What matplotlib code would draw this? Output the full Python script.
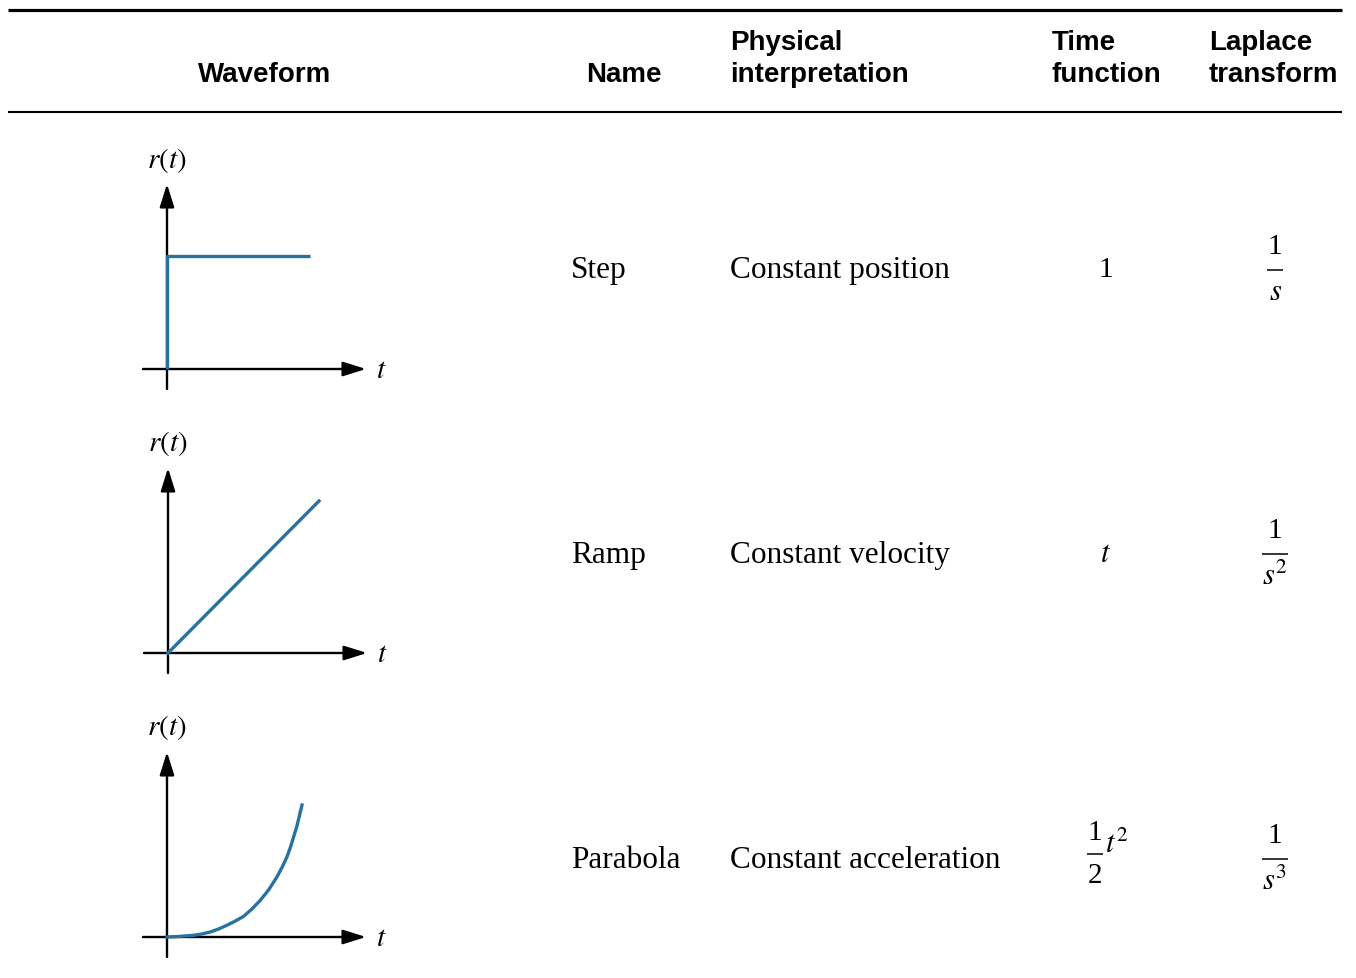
import matplotlib
matplotlib.use("Agg")
import matplotlib.pyplot as plt

plt.rcParams['mathtext.fontset'] = 'stix'

# ---- data ----
headers_waveform = "Waveform"
headers_name = "Name"
headers_phys = ["Physical", "interpretation"]
headers_time = ["Time", "function"]
headers_lap = ["Laplace", "transform"]

names = ["Step", "Ramp", "Parabola"]
interpretations = ["Constant position", "Constant velocity", "Constant acceleration"]
# time function: (numerator, denominator, trailing term); None numerator = plain term
time_num = [None, None, "1"]
time_den = [None, None, "2"]
time_term = ["1", r"$t$", r"$t^2$"]
# Laplace transform: 1 / s^n
lap_num = ["1", "1", "1"]
lap_den = [r"$s$", r"$s^2$", r"$s^3$"]

step_t = [0, 0, 1]
step_r = [0, 1, 1]
ramp_t = [0, 1]
ramp_r = [0, 1]
parab_t = [0, 0.074, 0.198, 0.259, 0.321, 0.383, 0.444, 0.506, 0.568, 0.630, 0.691,
           0.753, 0.815, 0.852, 0.889, 0.914, 0.938, 0.963, 1.0]
parab_r = [0, 0.003, 0.013, 0.023, 0.038, 0.061, 0.089, 0.121, 0.157, 0.213, 0.278,
           0.357, 0.456, 0.527, 0.608, 0.679, 0.759, 0.843, 1.0]

W, H = 1356, 979
fig = plt.figure(figsize=(W / 100, H / 100), dpi=100)
main = fig.add_axes([0, 0, 1, 1])
main.set_xlim(0, W)
main.set_ylim(H, 0)
main.axis('off')

head_font = dict(family=['Liberation Sans', 'DejaVu Sans'], weight='bold', fontsize=20)
body_font = dict(family=['Liberation Serif', 'DejaVu Serif'], fontsize=22.5)
num_font = dict(family=['Liberation Serif', 'DejaVu Serif'], fontsize=21)

# rules
main.plot([8, 1342], [11, 11], color='black', lw=2.3, solid_capstyle='butt')
main.plot([8, 1342], [113, 113], color='black', lw=1.5, solid_capstyle='butt')

# headers
main.text(265, 82, headers_waveform, ha='center', va='baseline', **head_font)
main.text(586, 82, headers_name, ha='left', va='baseline', **head_font)
for x, lines in [(730, headers_phys), (1052, headers_time), (1209, headers_lap)]:
    main.text(x, 50, lines[0], ha='left', va='baseline', **head_font)
    main.text(x, 82, lines[1], ha='left', va='baseline', **head_font)


def fraction(cx, bar_y, num, den, bar_w, den_dx=0, gap=23.5):
    main.text(cx, bar_y - gap, num, ha='center', va='center', **num_font)
    main.plot([cx - bar_w / 2, cx + bar_w / 2], [bar_y, bar_y], color='black', lw=1.1,
              solid_capstyle='butt')
    if den.startswith('$'):
        main.text(cx + den_dx, bar_y + 30, den, ha='center', va='baseline', fontsize=22)
    else:
        main.text(cx + den_dx, bar_y + gap, den, ha='center', va='center', **num_font)


# body rows
row_base = [278, 563, 868]
lap_bar = [270.5, 555, 860]
for i in range(3):
    main.text(571, row_base[i], names[i], ha='left', va='baseline', **body_font)
    main.text(730, row_base[i], interpretations[i], ha='left', va='baseline', **body_font)
    # time function
    if time_num[i] is None:
        main.text(1106, row_base[i] - 1, time_term[i], ha='center', va='baseline',
                  **(num_font if not time_term[i].startswith('$') else dict(fontsize=22)))
    else:
        fraction(1095, lap_bar[i] - 5, time_num[i], time_den[i], 16, gap=21.5)
        main.text(1105, lap_bar[i] - 7, time_term[i], ha='left', va='baseline', fontsize=22)
    # Laplace
    bw = 16 if i == 0 else 26
    fraction(1275, lap_bar[i], lap_num[i], lap_den[i], bw, den_dx=1 if i == 0 else 0)

blue = '#26739f'


def panel(ox, oy, w, h):
    L, R, T, B = 40, 230, 215, 30
    ax = fig.add_axes([(ox - L) / W, (H - (oy + B)) / H, (L + R) / W, (T + B) / H])
    ax.set_xlim(-L / w, R / w)
    ax.set_ylim(-B / h, T / h)
    ax.axis('off')
    aprops = dict(arrowstyle='-|>,head_length=0.7,head_width=0.22', mutation_scale=20,
                  lw=1.7, color='black', shrinkA=0, shrinkB=0)
    ax.annotate('', xy=(199 / w, 0), xytext=(-24 / w, 0), arrowprops=aprops)
    ax.annotate('', xy=(0, 185 / h), xytext=(0, -20 / h), arrowprops=aprops)
    ax.text(0, 210 / h, r'$r(t)$', ha='center', va='center', fontsize=21)
    ax.text(214 / w, 0, r'$t$', ha='center', va='center', fontsize=21)
    return ax


a1 = panel(167, 370, 143, 113)
a1.plot(step_t, step_r, color=blue, lw=2.4, solid_capstyle='butt', zorder=3)
a2 = panel(168, 654, 151, 152)
a2.plot(ramp_t, ramp_r, color=blue, lw=2.4, zorder=3)
a3 = panel(167, 938, 135, 132)
a3.plot(parab_t, parab_r, color=blue, lw=2.4, zorder=3, solid_joinstyle='round')

fig.savefig('out.png', dpi=100)
